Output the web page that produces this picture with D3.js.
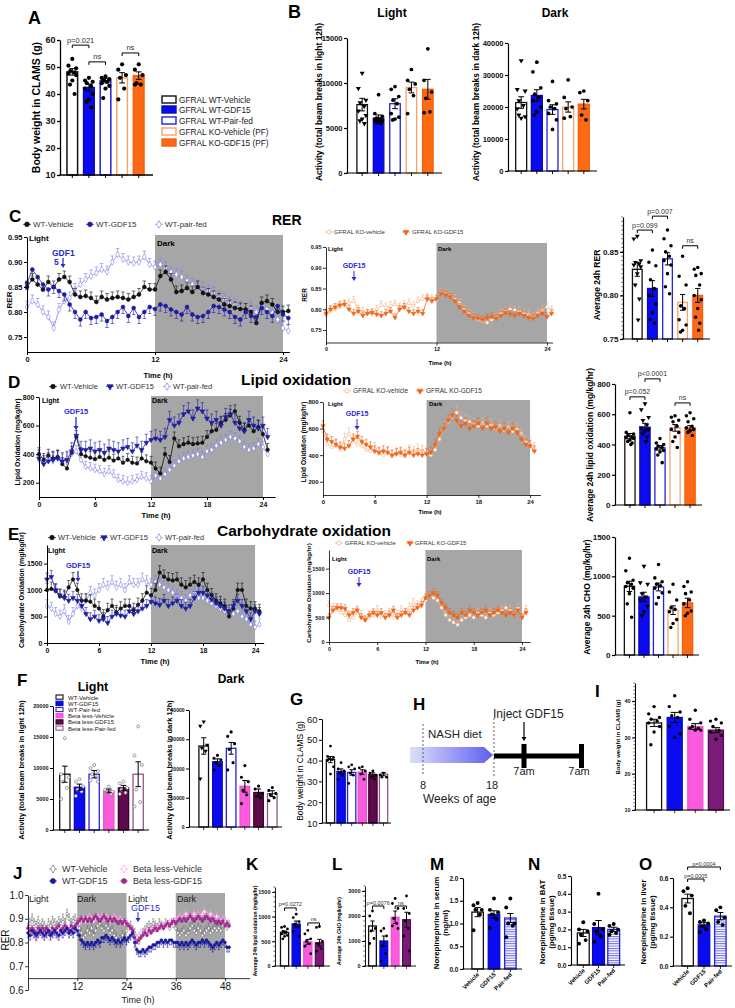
<!DOCTYPE html>
<html><head><meta charset="utf-8">
<script src="https://cdn.jsdelivr.net/npm/d3@7"></script>
<style>body{margin:0;background:#fff}svg{display:block}</style>
</head><body><script>
// ---------- data: group names ----------
const gfralGroups = ["GFRAL WT-Vehicle", "GFRAL WT-GDF15", "GFRAL WT-Pair-fed", "GFRAL KO-Vehicle (PF)", "GFRAL KO-GDF15 (PF)"];
const betaGroups = ["WT-Vehicle", "WT-GDF15", "WT-Pair-fed", "Beta less-Vehicle", "Beta less-GDF15", "Beta less-Pair-fed"];
const neCats = ["Vehicle", "GDF15", "Pair-fed"];

// ---------- A: body weight ----------
const bwMeans = [48.2, 42.4, 44.9, 46.0, 46.8];
const bwSem = [1.2, 1.3, 0.8, 1.9, 1.4];
const bwPts = [[53, 50.5, 49.5, 48.5, 48, 47.5, 47, 45, 43.5, 40], [46, 45, 44.5, 44, 43, 42, 40, 38, 37, 35], [46.5, 46, 45.5, 45, 44.5, 44, 43, 42, 38.5], [51, 49, 47, 46, 42, 38], [51, 49, 47, 44, 43.5, 43.5]];

// ---------- B: activity ----------
const actLMeans = [7600, 6100, 7700, 9500, 9300];
const actLSem = [700, 350, 550, 600, 1100];
const actLPts = [[11100, 9400, 8100, 7800, 7400, 6900, 6400, 6000, 5800, 5500], [8700, 6600, 6300, 6100, 6000, 5900, 5800, 5700, 5600, 5500], [9600, 9300, 8500, 8100, 7700, 6600, 6200, 6000, 5900], [11500, 10300, 9900, 9300, 8600, 6600], [13800, 10300, 9000, 8300, 6800, 6700]];
const actDMeans = [21400, 23600, 19200, 20000, 20900];
const actDSem = [1800, 1800, 1500, 1600, 1500];
const actDPts = [[34500, 25500, 25000, 22000, 20500, 19500, 17000, 16500, 17500], [34000, 31000, 26000, 24000, 23000, 22000, 20000, 18500, 17500], [28000, 22000, 21000, 20000, 19500, 18000, 16000, 13000], [28500, 23000, 20000, 19500, 17000, 16500], [25000, 24500, 22000, 17500, 16000]];

// ---------- C: RER time course (every 0.5 h) ----------
const rerWtVeh = [0.850, 0.865, 0.855, 0.845, 0.860, 0.850, 0.865, 0.870, 0.860, 0.835, 0.830, 0.832, 0.828, 0.820, 0.830, 0.825, 0.828, 0.830, 0.828, 0.825, 0.830, 0.835, 0.850, 0.845, 0.845, 0.872, 0.880, 0.865, 0.840, 0.842, 0.848, 0.840, 0.850, 0.838, 0.835, 0.830, 0.825, 0.815, 0.812, 0.808, 0.806, 0.805, 0.800, 0.778, 0.818, 0.822, 0.815, 0.800, 0.800, 0.802];
const rerWtGdf = [0.858, 0.885, 0.870, 0.855, 0.845, 0.850, 0.842, 0.835, 0.815, 0.800, 0.785, 0.800, 0.788, 0.790, 0.795, 0.782, 0.790, 0.800, 0.810, 0.792, 0.808, 0.790, 0.800, 0.810, 0.806, 0.815, 0.812, 0.805, 0.800, 0.795, 0.810, 0.795, 0.790, 0.792, 0.800, 0.812, 0.810, 0.805, 0.800, 0.790, 0.785, 0.800, 0.792, 0.790, 0.808, 0.800, 0.792, 0.812, 0.795, 0.788];
const rerWtPf = [0.810, 0.822, 0.815, 0.800, 0.790, 0.768, 0.805, 0.822, 0.828, 0.845, 0.855, 0.865, 0.872, 0.878, 0.885, 0.880, 0.900, 0.915, 0.905, 0.900, 0.898, 0.900, 0.910, 0.895, 0.890, 0.895, 0.888, 0.880, 0.875, 0.870, 0.862, 0.855, 0.852, 0.848, 0.842, 0.838, 0.830, 0.825, 0.818, 0.815, 0.810, 0.805, 0.808, 0.800, 0.810, 0.805, 0.798, 0.785, 0.768, 0.762];
const rerKoVeh = [0.785, 0.795, 0.800, 0.805, 0.812, 0.815, 0.820, 0.800, 0.795, 0.790, 0.788, 0.800, 0.810, 0.805, 0.808, 0.812, 0.805, 0.810, 0.815, 0.808, 0.820, 0.825, 0.828, 0.825, 0.822, 0.840, 0.838, 0.832, 0.825, 0.815, 0.800, 0.790, 0.782, 0.775, 0.772, 0.768, 0.775, 0.780, 0.790, 0.795, 0.800, 0.798, 0.795, 0.790, 0.788, 0.780, 0.792, 0.798, 0.805, 0.798];
const rerKoGdf = [0.790, 0.800, 0.805, 0.810, 0.812, 0.800, 0.790, 0.795, 0.785, 0.790, 0.792, 0.788, 0.785, 0.790, 0.795, 0.780, 0.800, 0.805, 0.795, 0.790, 0.795, 0.790, 0.825, 0.820, 0.825, 0.838, 0.835, 0.830, 0.820, 0.805, 0.795, 0.785, 0.780, 0.778, 0.775, 0.780, 0.782, 0.778, 0.785, 0.792, 0.788, 0.785, 0.790, 0.785, 0.780, 0.778, 0.785, 0.790, 0.782, 0.790];
const rerAvgMeans = [0.830, 0.808, 0.842, 0.792, 0.800];
const rerAvgSem = [0.008, 0.009, 0.007, 0.009, 0.008];
const rerAvgPts = [[0.868, 0.865, 0.840, 0.838, 0.836, 0.835, 0.833, 0.825, 0.812, 0.796, 0.772], [0.852, 0.838, 0.834, 0.818, 0.808, 0.800, 0.790, 0.780, 0.772, 0.768], [0.875, 0.865, 0.857, 0.850, 0.845, 0.840, 0.835, 0.825, 0.810, 0.802], [0.845, 0.822, 0.812, 0.788, 0.785, 0.772, 0.766, 0.760, 0.758], [0.832, 0.830, 0.825, 0.823, 0.812, 0.800, 0.795, 0.785, 0.775, 0.768, 0.760]];

// ---------- D: lipid oxidation ----------
const lipWtVeh = [400, 360, 390, 370, 380, 330, 300, 410, 520, 400, 385, 375, 365, 380, 360, 375, 355, 370, 340, 360, 340, 335, 370, 350, 340, 300, 265, 400, 345, 510, 455, 470, 480, 470, 475, 480, 520, 560, 570, 620, 640, 670, 700, 620, 570, 600, 560, 590, 540, 430];
const lipWtGdf = [370, 330, 350, 360, 370, 350, 360, 420, 530, 430, 430, 440, 420, 430, 410, 440, 430, 420, 440, 450, 420, 460, 430, 480, 500, 510, 500, 520, 640, 600, 620, 680, 700, 650, 720, 700, 650, 620, 640, 600, 660, 680, 620, 580, 560, 640, 600, 580, 600, 520];
const lipWtPf = [360, 340, 360, 350, 380, 360, 370, 400, 420, 360, 310, 300, 290, 280, 260, 280, 250, 220, 210, 200, 210, 220, 240, 230, 210, 250, 230, 260, 290, 320, 350, 370, 380, 390, 400, 380, 420, 430, 460, 480, 500, 520, 510, 490, 450, 430, 440, 470, 450, 400];
const lipKoVeh = [580, 480, 460, 470, 440, 520, 560, 500, 480, 470, 440, 430, 450, 410, 400, 420, 390, 410, 400, 390, 430, 420, 440, 430, 420, 400, 440, 520, 600, 650, 690, 720, 680, 660, 650, 630, 620, 640, 620, 630, 600, 620, 590, 610, 580, 600, 560, 500, 480, 450];
const lipKoGdf = [620, 520, 500, 480, 460, 450, 470, 520, 540, 500, 480, 460, 430, 420, 430, 420, 400, 410, 420, 400, 420, 400, 410, 400, 410, 420, 480, 560, 600, 660, 700, 660, 620, 640, 600, 620, 640, 600, 640, 600, 610, 580, 600, 570, 600, 570, 520, 480, 470, 430];
const lipAvgMeans = [455, 515, 378, 510, 510];
const lipAvgSem = [18, 25, 15, 22, 15];
const lipAvgPts = [[610, 480, 470, 460, 450, 445, 440, 430, 420, 410, 400], [670, 630, 580, 560, 530, 510, 500, 490, 470, 450, 420], [440, 410, 400, 390, 380, 370, 360, 350, 330, 280], [590, 580, 560, 550, 520, 500, 480, 450, 420, 380], [610, 590, 570, 550, 520, 510, 500, 490, 480, 460]];

// ---------- E: carbohydrate oxidation ----------
const choWtVeh = [1000, 1020, 980, 880, 870, 1050, 1200, 1000, 800, 800, 780, 700, 650, 500, 620, 700, 580, 650, 700, 700, 620, 720, 800, 950, 900, 1000, 1330, 1250, 1200, 1180, 1200, 1100, 1050, 1100, 1150, 1100, 1200, 1000, 900, 800, 750, 700, 500, 650, 1000, 1000, 700, 650, 650, 600];
const choWtGdf = [1200, 1250, 1000, 900, 850, 800, 850, 800, 700, 550, 450, 500, 420, 450, 380, 500, 550, 520, 500, 600, 550, 600, 650, 700, 780, 750, 720, 800, 700, 750, 800, 700, 650, 700, 850, 950, 950, 900, 820, 750, 700, 650, 600, 700, 800, 700, 600, 450, 600, 550];
const choWtPf = [700, 650, 550, 500, 600, 400, 550, 700, 650, 800, 950, 900, 1000, 1100, 1050, 1150, 1050, 1100, 1000, 1150, 1100, 1100, 1200, 1150, 1100, 1150, 1100, 1050, 1000, 950, 900, 850, 800, 900, 950, 850, 850, 800, 750, 700, 650, 600, 500, 550, 600, 500, 450, 350, 300, 350];
const choKoVeh = [750, 700, 650, 600, 550, 450, 500, 600, 550, 450, 500, 550, 650, 500, 550, 600, 500, 550, 650, 600, 700, 800, 750, 800, 850, 950, 900, 850, 700, 550, 450, 400, 350, 450, 500, 550, 500, 600, 550, 500, 600, 550, 600, 650, 700, 650, 550, 700, 500, 650];
const choKoGdf = [500, 650, 700, 700, 680, 550, 600, 650, 500, 450, 550, 600, 550, 600, 500, 550, 650, 500, 550, 600, 550, 650, 700, 750, 900, 950, 1000, 950, 800, 700, 600, 550, 500, 600, 550, 650, 600, 550, 600, 650, 550, 600, 650, 600, 550, 600, 550, 650, 500, 600];
const choAvgMeans = [873, 738, 865, 570, 662];
const choAvgSem = [65, 60, 50, 55, 60];
const choAvgPts = [[1230, 1070, 950, 920, 900, 870, 850, 780, 650, 480], [1130, 920, 900, 780, 740, 700, 620, 550, 500], [1150, 980, 930, 900, 880, 850, 790, 730, 650], [900, 800, 700, 600, 580, 550, 450, 400, 350], [930, 870, 800, 780, 700, 650, 560, 530, 500]];

// ---------- F, G: Beta less activity and body weight ----------
const fLMeans = [9000, 6900, 9000, 6300, 6800, 9000];
const fLSem = [1300, 500, 600, 300, 400, 2000];
const fLPts = [[14800, 9000, 8500, 7800, 6800, 5000], [8200, 7800, 7000, 6500, 6200, 5500], [10500, 10000, 9500, 9000, 8500, 8000, 7800], [7000, 6500, 6200, 6000, 5800], [7800, 7500, 6800, 6500, 6000, 5800], [16700, 12000, 10500, 6500, 4500, 3800]];
const fDMeans = [27700, 22300, 26900, 13900, 11800, 11400];
const fDSem = [2800, 1000, 2000, 2000, 1200, 1000];
const fDPts = [[36000, 34500, 28000, 27000, 26000, 16500], [24500, 23500, 23000, 22000, 21000, 19500], [32500, 31000, 28500, 26500, 22000, 19500], [21000, 17000, 15500, 12500, 11000, 8000], [14000, 13000, 11500, 10500, 10000], [13500, 12500, 11500, 11000, 10000, 9000]];
const gMeans = [40.5, 34.8, 34.3, 34.5, 33.2, 33.5];
const gSem = [1.5, 1.2, 1.3, 1.1, 0.9, 0.8];
const gPts = [[47, 42, 41.5, 41, 40.5, 40, 37, 33.5], [39, 36, 35, 34, 33, 31], [38, 37, 36, 34, 33, 29], [37, 36.5, 35, 33.5, 31], [35, 34, 33, 32, 31], [34, 33, 32, 32]];

// ---------- I: NASH body weight ----------
const iMeans = [34, 35.5, 33, 32];
const iSem = [1.0, 1.4, 0.8, 0.7];
const iPts = [[38.5, 36.5, 35.5, 35, 34.5, 34, 33, 31.5, 28], [41.5, 38.5, 37, 36, 35.5, 33, 31, 30], [37.5, 35, 34, 33, 32.5, 32.5, 32, 32], [35, 34.5, 34, 33, 32, 31.5, 30.5, 29.5]];

// ---------- J: RER 48 h (every 0.5 h) ----------
const jWtVeh = [0.86, 0.88, 0.90, 0.88, 0.87, 0.89, 0.86, 0.88, 0.87, 0.85, 0.88, 0.87, 0.89, 0.88, 0.87, 0.89, 0.88, 0.90, 0.88, 0.92, 0.90, 0.88, 0.89, 0.90, 0.88,
  0.86, 0.84, 0.82, 0.83, 0.85, 0.84, 0.86, 0.83, 0.85, 0.87, 0.88, 0.86, 0.85, 0.87, 0.86, 0.84, 0.85, 0.83, 0.82, 0.80, 0.81, 0.83, 0.82, 0.85,
  0.86, 0.87, 0.85, 0.84, 0.81, 0.80, 0.82, 0.84, 0.85, 0.86, 0.87, 0.86, 0.88, 0.87, 0.86, 0.88, 0.87, 0.86, 0.88, 0.87, 0.86, 0.88, 0.87, 0.86,
  0.84, 0.83, 0.84, 0.85, 0.83, 0.84, 0.86, 0.87, 0.85, 0.84, 0.86, 0.85, 0.83, 0.84, 0.85, 0.86, 0.84, 0.85, 0.86, 0.85, 0.86, 0.85, 0.87, 0.88, 0.86, 0.87];
const jWtGdf = [0.84, 0.83, 0.85, 0.84, 0.83, 0.84, 0.85, 0.84, 0.83, 0.84, 0.85, 0.83, 0.84, 0.85, 0.84, 0.83, 0.85, 0.84, 0.85, 0.86, 0.84, 0.85, 0.84, 0.86, 0.85,
  0.83, 0.81, 0.80, 0.79, 0.80, 0.79, 0.80, 0.79, 0.80, 0.81, 0.80, 0.82, 0.82, 0.83, 0.82, 0.81, 0.82, 0.81, 0.80, 0.81, 0.80, 0.81, 0.82, 0.81,
  0.82, 0.83, 0.84, 0.80, 0.77, 0.76, 0.76, 0.77, 0.76, 0.77, 0.78, 0.78, 0.79, 0.79, 0.80, 0.80, 0.81, 0.80, 0.81, 0.80, 0.81, 0.81, 0.80, 0.80,
  0.80, 0.79, 0.80, 0.79, 0.80, 0.79, 0.80, 0.81, 0.80, 0.79, 0.80, 0.80, 0.81, 0.80, 0.81, 0.80, 0.79, 0.78, 0.79, 0.80, 0.79, 0.80, 0.81, 0.80, 0.78, 0.78];
const jBlVeh = [0.85, 0.84, 0.82, 0.83, 0.81, 0.83, 0.84, 0.82, 0.83, 0.84, 0.82, 0.83, 0.84, 0.83, 0.82, 0.84, 0.83, 0.84, 0.85, 0.84, 0.83, 0.85, 0.84, 0.85, 0.86,
  0.88, 0.89, 0.90, 0.89, 0.90, 0.91, 0.90, 0.89, 0.90, 0.91, 0.90, 0.91, 0.90, 0.91, 0.90, 0.89, 0.90, 0.91, 0.90, 0.89, 0.90, 0.89, 0.88, 0.89,
  0.86, 0.85, 0.84, 0.83, 0.82, 0.83, 0.84, 0.83, 0.84, 0.85, 0.84, 0.85, 0.86, 0.85, 0.86, 0.87, 0.86, 0.87, 0.88, 0.87, 0.88, 0.87, 0.88, 0.89,
  0.90, 0.91, 0.90, 0.91, 0.92, 0.91, 0.90, 0.91, 0.92, 0.91, 0.92, 0.91, 0.92, 0.93, 0.92, 0.91, 0.92, 0.91, 0.90, 0.91, 0.90, 0.89, 0.90, 0.89, 0.88, 0.88];
const jBlGdf = [0.86, 0.85, 0.86, 0.85, 0.84, 0.86, 0.85, 0.86, 0.85, 0.86, 0.85, 0.84, 0.86, 0.85, 0.86, 0.87, 0.85, 0.86, 0.87, 0.86, 0.85, 0.87, 0.86, 0.87, 0.88,
  0.89, 0.90, 0.89, 0.90, 0.89, 0.90, 0.89, 0.90, 0.91, 0.90, 0.89, 0.90, 0.91, 0.90, 0.89, 0.90, 0.89, 0.90, 0.89, 0.88, 0.89, 0.88, 0.89, 0.88,
  0.87, 0.86, 0.85, 0.82, 0.80, 0.81, 0.82, 0.83, 0.84, 0.83, 0.85, 0.84, 0.85, 0.86, 0.85, 0.86, 0.87, 0.86, 0.87, 0.88, 0.87, 0.88, 0.89, 0.88,
  0.89, 0.90, 0.89, 0.90, 0.89, 0.90, 0.91, 0.90, 0.89, 0.90, 0.91, 0.90, 0.89, 0.90, 0.91, 0.90, 0.89, 0.90, 0.89, 0.88, 0.89, 0.88, 0.89, 0.87, 0.88, 0.87];

// ---------- K, L ----------
const kMeans = [680, 850, 490, 470];
const kSem = [30, 60, 50, 70];
const kPts = [[800, 780, 750, 700, 680, 650, 620, 600, 550], [1050, 980, 900, 850, 800, 700, 600], [720, 650, 550, 500, 450, 400, 250], [800, 780, 500, 450, 350, 300]];
const lMeans = [1600, 1000, 1950, 1850];
const lSem = [200, 200, 250, 300];
const lPts = [[2200, 2000, 1500, 1400, 1100, 900], [1500, 1400, 1200, 800, 500, 200], [2700, 2500, 2300, 1900, 1700, 1600, 1500], [2800, 2300, 2100, 1800, 1500, 1200, 600]];

// ---------- M, N, O: norepinephrine ----------
const mMeans = [1.25, 1.2, 1.12];
const mSem = [0.1, 0.08, 0.1];
const mPts = [[1.45, 1.4, 1.3, 1.3, 1.2, 0.85], [1.55, 1.3, 1.25, 1.2, 1.1, 0.9], [1.55, 1.35, 1.0, 1.0, 0.95, 0.7]];
const nMeans = [0.18, 0.21, 0.20];
const nSem = [0.02, 0.04, 0.012];
const nPts = [[0.24, 0.2, 0.19, 0.17, 0.14, 0.12], [0.4, 0.23, 0.2, 0.19, 0.16, 0.13], [0.23, 0.22, 0.2, 0.19, 0.18, 0.17]];
const oMeans = [0.46, 0.28, 0.34];
const oSem = [0.03, 0.015, 0.025];
const oPts = [[0.53, 0.51, 0.48, 0.41, 0.36], [0.31, 0.30, 0.29, 0.27, 0.25, 0.23], [0.40, 0.38, 0.33, 0.30, 0.28]];

// ---------- drawing ----------
const FONT = "'Liberation Sans', Arial, sans-serif";
const DARK = "#a6a6a6";
const JIT = [0, -1, 1, -0.55, 0.55, -1, 1, 0, -0.6, 0.6, 0.25, -0.25];
const SYM = {c: d3.symbolCircle, t: d3.symbolTriangle, d: d3.symbolDiamond, s: d3.symbolSquare};
const STY = {
  wtVeh: {fill: "#fff", stroke: "#111"},
  wtGdf: {fill: "#0b0bf2", stroke: "#0a0ab8"},
  wtPf: {fill: "#fff", stroke: "#2323dd"},
  koVeh: {fill: "#fff", stroke: "#f5a46e"},
  koGdf: {fill: "#fd6a14", stroke: "#f4600c"},
  blVeh: {fill: "#f95bdc", stroke: "#f050d0"},
  blGdf: {fill: "#5d0b4d", stroke: "#3d0033"},
  blPf: {fill: "#fff", stroke: "#8c5a84"},
  blGdf2: {fill: "#7b1b78", stroke: "#5a0a58"},
  pfStripe: {fill: "url(#stripes)", stroke: "#2323dd"}
};
const styGfral = ["wtVeh", "wtGdf", "wtPf", "koVeh", "koGdf"];
const styBeta = ["wtVeh", "wtGdf", "wtPf", "blVeh", "blGdf", "blPf"];
const styNash = ["wtVeh", "wtGdf", "blVeh", "blGdf2"];
const styNe = ["wtVeh", "wtGdf", "pfStripe"];

const svg = d3.select("body").append("svg").attr("width", 735).attr("height", 1008)
  .style("font-family", FONT);
const defs = svg.append("defs");
const pat = defs.append("pattern").attr("id", "stripes").attr("patternUnits", "userSpaceOnUse")
  .attr("width", 4).attr("height", 2.4);
pat.append("rect").attr("width", 4).attr("height", 2.4).attr("fill", "#fff");
pat.append("rect").attr("y", 0).attr("width", 4).attr("height", 1).attr("fill", "#6a6af0");
const grad = defs.append("linearGradient").attr("id", "nash");
grad.append("stop").attr("offset", "0%").attr("stop-color", "#dde0fa");
grad.append("stop").attr("offset", "100%").attr("stop-color", "#5e5ef0");

function txt(t, x, y, o = {}) {
  return svg.append("text").attr("x", x).attr("y", y).text(t)
    .attr("font-size", o.s || 8).attr("font-weight", o.b ? "bold" : "normal")
    .attr("fill", o.c || "#000").attr("text-anchor", o.a || "start");
}
function vtxt(t, x, cy, o = {}) {
  return svg.append("text").attr("transform", `translate(${x},${cy}) rotate(-90)`).text(t)
    .attr("font-size", o.s || 8).attr("font-weight", o.b ? "bold" : "normal")
    .attr("fill", o.c || "#000").attr("text-anchor", "middle");
}
function letter(t, x, y, s = 19) { txt(t, x, y, {s: s, b: true}); }
function arrow(x, y1, y2, c, w = 1.3) {
  svg.append("path").attr("d", `M${x},${y1}V${y2 - 3}`).attr("stroke", c).attr("stroke-width", w);
  svg.append("path").attr("d", `M${x - 2.5},${y2 - 4}L${x + 2.5},${y2 - 4}L${x},${y2}Z`).attr("fill", c);
}

function styleAxis(a, fs, fw, lw) {
  a.attr("font-family", FONT).attr("font-size", fs).attr("font-weight", fw);
  a.select(".domain").attr("stroke-width", lw);
  a.selectAll(".tick line").attr("stroke-width", lw);
  a.selectAll(".tick text").attr("fill", "#111");
}

function barPanel(p) {
  const g = svg.append("g");
  const y = d3.scaleLinear().domain(p.yd).range(p.yr);
  const n = p.means.length;
  const x = d3.scaleBand().domain(d3.range(n)).range(p.xr).padding(p.pad || 0.3);
  const bw = x.bandwidth(), base = y(p.yd[0]);
  const cx = i => x(i) + bw / 2;
  const lw = p.lw || 1.2;
  g.selectAll(".bar").data(p.means).join("rect").attr("class", "bar")
    .attr("x", (d, i) => x(i)).attr("width", bw)
    .attr("y", d => y(d)).attr("height", d => base - y(d))
    .attr("fill", (d, i) => STY[p.sty[i]].fill).attr("stroke", (d, i) => STY[p.sty[i]].stroke)
    .attr("stroke-width", p.sw || 1.3);
  p.pts.forEach((arr, i) => {
    const sym = (p.sym && p.sym[i]) || "c";
    g.append("g").selectAll("path").data(arr).join("path")
      .attr("transform", (v, j) => `translate(${cx(i) + JIT[j % JIT.length] * bw * 0.36},${y(v)})${sym === "t" ? " rotate(180)" : ""}`)
      .attr("d", d3.symbol().type(SYM[sym]).size(p.ds || 10))
      .attr("fill", p.open ? "#fff" : "#000").attr("stroke", p.open ? "#777" : "none")
      .attr("stroke-width", 0.7);
  });
  g.append("g").selectAll("path").data(p.means).join("path")
    .attr("d", (m, i) => {
      const c = cx(i), w = bw * 0.27, a = y(m - p.sem[i]), b = y(m + p.sem[i]);
      return `M${c},${a}V${b}M${c - w},${a}H${c + w}M${c - w},${b}H${c + w}`;
    })
    .attr("stroke", "#000").attr("stroke-width", 1).attr("fill", "none");
  const ya = g.append("g").attr("transform", `translate(${p.ax},0)`)
    .call(d3.axisLeft(y).tickValues(p.ticks).tickFormat(p.fmt || d3.format("d"))
      .tickSize(3).tickSizeOuter(0).tickPadding(1.5));
  styleAxis(ya, p.fs || 8, p.fw || "bold", lw);
  if (p.minor) {
    g.append("g").selectAll("path").data(d3.range(p.yd[0], p.yd[1] + 1e-9, p.minor)).join("path")
      .attr("d", v => `M${p.ax},${y(v)}h-1.6`).attr("stroke", "#000").attr("stroke-width", 0.6);
  }
  g.append("path").attr("d", `M${p.ax - lw / 2},${base}H${p.xe}`).attr("stroke", "#000").attr("stroke-width", lw);
  g.append("g").selectAll("path").data(d3.range(n)).join("path")
    .attr("d", i => `M${cx(i)},${base}v3`).attr("stroke", "#000").attr("stroke-width", lw * 0.8);
  if (p.yl) {
    const cy = p.yl.cy != null ? p.yl.cy : (p.yr[0] + p.yr[1]) / 2;
    p.yl.t.forEach((t, k) => vtxt(t, p.yl.x + k * (p.yl.gap || 10), cy, {s: p.yl.s, b: p.yl.b !== false}));
  }
  if (p.cats) {
    p.cats.forEach((c, i) => {
      svg.append("text").attr("transform", `translate(${cx(i) + 2},${base + 6}) rotate(-45)`)
        .attr("text-anchor", "end").attr("font-size", p.cs || 6).attr("font-weight", "bold").text(c);
    });
  }
  (p.br || []).forEach(b => {
    const yy = y(b.v), h = b.h || 3;
    g.append("path").attr("d", `M${cx(b.a)},${yy + h}V${yy}H${cx(b.b)}V${yy + h}`)
      .attr("stroke", "#000").attr("stroke-width", b.w || 1).attr("fill", "none");
    txt(b.t, (cx(b.a) + cx(b.b)) / 2, yy - (b.off || 2.5), {s: b.s || 7, a: "middle", c: "#333"});
  });
  return {x: cx, y: y};
}

function tsPanel(p) {
  const g = svg.append("g");
  const x = d3.scaleLinear().domain(p.xd).range(p.xr);
  const y = d3.scaleLinear().domain(p.yd).range(p.yr);
  const base = p.base != null ? y(p.base) : y(p.yd[0]);
  const lw = p.lw || 1;
  p.dark.forEach(([a, b]) => g.append("rect").attr("x", x(a)).attr("y", p.dt)
    .attr("width", x(b) - x(a)).attr("height", base - p.dt).attr("fill", DARK));
  p.series.forEach(s => {
    const pts = s.v.map((v, i) => [i * 0.5, v]);
    const sg = g.append("g").attr("opacity", s.op || 1);
    const dir = s.dir || 1;
    sg.append("path").attr("d", pts.map(d => {
      const px = x(d[0]), a = y(d[1]), b = y(d[1] + dir * s.e);
      return `M${px},${a}V${b}M${px - p.cap},${b}H${px + p.cap}`;
    }).join("")).attr("stroke", s.c).attr("stroke-width", 0.6).attr("fill", "none");
    sg.append("path").datum(pts).attr("d", d3.line().x(d => x(d[0])).y(d => y(d[1])))
      .attr("stroke", s.c).attr("stroke-width", p.lineW || 0.8).attr("fill", "none");
    sg.append("g").selectAll("path").data(pts).join("path")
      .attr("transform", d => `translate(${x(d[0])},${y(d[1])})${s.m === "t" ? " rotate(180)" : ""}`)
      .attr("d", d3.symbol().type(SYM[s.m]).size(p.ms))
      .attr("fill", s.o ? "#fff" : s.c).attr("stroke", s.c).attr("stroke-width", 0.6);
  });
  const ya = g.append("g").attr("transform", `translate(${p.xr[0]},0)`)
    .call(d3.axisLeft(y).tickValues(p.yt).tickFormat(d3.format(p.yf)).tickSize(3).tickSizeOuter(0).tickPadding(1.5));
  styleAxis(ya, p.fs, p.fw || "bold", lw);
  const xa = g.append("g").attr("transform", `translate(0,${base})`)
    .call(d3.axisBottom(x).tickValues(p.xt).tickFormat(d3.format("d")).tickSize(3).tickSizeOuter(0).tickPadding(2));
  styleAxis(xa, p.fs, p.fw || "bold", lw);
  return {x: x, y: y};
}

function tsLegend(items, y, s) {
  items.forEach(it => {
    svg.append("path").attr("d", `M${it.mx - 4},${y - s * 0.33}h8`).attr("stroke", it.c).attr("stroke-width", 0.7);
    svg.append("path").attr("transform", `translate(${it.mx},${y - s * 0.33})${it.m === "t" ? " rotate(180)" : ""}`)
      .attr("d", d3.symbol().type(SYM[it.m]).size(s * 2.2))
      .attr("fill", it.o ? "#fff" : it.c).attr("stroke", it.c).attr("stroke-width", 0.7);
    txt(it.t, it.tx, y, {s: s, c: "#333"});
  });
}

// series styles
const sWtVeh = v => ({v: v, c: "#111", m: "c"});
const sWtGdf = (v, m) => ({v: v, c: "#1e1ea2", m: m});
const sWtPf = v => ({v: v, c: "#8080e8", m: "d", o: true});
const sKoVeh = v => ({v: v, c: "#f5ae84", m: "c", o: true});
const sKoGdf = v => ({v: v, c: "#f0661a", m: "t"});

// ===== A =====
letter("A", 28, 24, 18);
barPanel({ax: 60, xr: [61, 150], xe: 153, yd: [10, 60], yr: [175, 40], ticks: [10, 20, 30, 40, 50, 60],
  means: bwMeans, sem: bwSem, pts: bwPts, sty: styGfral, pad: 0.36, ds: 14, fs: 9, sw: 1.5, lw: 1.3,
  yl: {t: ["Body weight in CLAMS (g)"], x: 40, s: 10.5},
  br: [{a: 0, b: 1, v: 58.1, t: "p=0.021", s: 7.5}, {a: 1, b: 2, v: 51.9, t: "ns", s: 7.5}, {a: 3, b: 4, v: 55.2, t: "ns", s: 7.5}]});
gfralGroups.forEach((gname, i) => {
  const yy = [96, 106, 117, 128, 139][i];
  svg.append("rect").attr("x", 162).attr("y", yy).attr("width", 14).attr("height", 7)
    .attr("fill", STY[styGfral[i]].fill).attr("stroke", STY[styGfral[i]].stroke).attr("stroke-width", 1.4);
  txt(gname, 179, yy + 7, {s: 8.3, c: "#222"});
});

// ===== B =====
letter("B", 288, 18, 18);
txt("Light", 392, 17, {s: 12, b: true, a: "middle"});
txt("Dark", 555, 17, {s: 12, b: true, a: "middle"});
barPanel({ax: 347, xr: [351, 439], xe: 442, yd: [0, 15000], yr: [173, 38], ticks: [0, 5000, 10000, 15000],
  means: actLMeans, sem: actLSem, pts: actLPts, sty: styGfral, sym: ["t"], pad: 0.36, ds: 11, fs: 7.5,
  yl: {t: ["Activity (total beam breaks in light 12h)"], x: 322, cy: 102, s: 8.5}});
barPanel({ax: 508, xr: [511, 594], xe: 597, yd: [0, 40000], yr: [171, 43], ticks: [0, 10000, 20000, 30000, 40000],
  means: actDMeans, sem: actDSem, pts: actDPts, sty: styGfral, sym: ["t"], pad: 0.3, ds: 11, fs: 7.5,
  yl: {t: ["Activity (total beam breaks in dark 12h)"], x: 479, cy: 102, s: 8.5}});

// ===== C =====
letter("C", 9, 222, 17);
txt("RER", 272, 225, {s: 14, b: true});
tsLegend([{mx: 27, tx: 33, t: "WT-Vehicle", c: "#111", m: "c"}, {mx: 90, tx: 96, t: "WT-GDF15", c: "#1e1ea2", m: "c"},
  {mx: 159, tx: 165, t: "WT-pair-fed", c: "#8080e8", m: "d", o: true}], 227, 8);
tsPanel({xd: [0, 24.6], xr: [27, 289.4], yd: [0.72, 0.95], yr: [352, 237], dt: 235, dark: [[12, 24]],
  yt: [0.75, 0.8, 0.85, 0.9, 0.95], yf: ".2f", xt: [0, 12, 24], fs: 7.5, ms: 12, cap: 1.8,
  series: [Object.assign(sWtPf(rerWtPf), {e: 0.012}), Object.assign(sWtVeh(rerWtVeh), {e: 0.012}),
    Object.assign(sWtGdf(rerWtGdf, "c"), {e: 0.013, dir: -1})]});
vtxt("RER", 12, 300, {s: 8, b: true});
txt("Light", 29, 241, {s: 8, b: true});
txt("Dark", 157, 246, {s: 8, b: true});
txt("GDF1", 52, 256, {s: 8.5, b: true, c: "#2a2ad0"});
txt("5", 54, 265, {s: 8.5, b: true, c: "#2a2ad0"});
arrow(63, 258, 268, "#2a2ad0");
txt("Time (h)", 158, 378, {s: 7.5, b: true, a: "middle"});

tsLegend([{mx: 329, tx: 334, t: "GFRAL KO-vehicle", c: "#f5ae84", m: "c", o: true},
  {mx: 406, tx: 412, t: "GFRAL KO-GDF15", c: "#f0661a", m: "t"}], 234, 6);
tsPanel({xd: [0, 24.6], xr: [326, 552.5], yd: [0.72, 0.95], yr: [342.5, 247], dt: 243, dark: [[12, 24]],
  yt: [0.75, 0.8, 0.85, 0.9, 0.95], yf: ".2f", xt: [0, 12, 24], fs: 5.5, ms: 8, cap: 1.5, lw: 0.8,
  series: [Object.assign(sKoVeh(rerKoVeh), {e: 0.01}), Object.assign(sKoGdf(rerKoGdf), {e: 0.009})]});
vtxt("RER", 307, 295, {s: 6.5, b: true});
txt("Light", 328, 251, {s: 6, b: true});
txt("Dark", 438, 251, {s: 6, b: true});
txt("GDF15", 354, 268, {s: 7, b: true, c: "#2a2ad0", a: "middle"});
arrow(354, 271, 281, "#2a2ad0", 1);
txt("Time (h)", 440, 365, {s: 6, b: true, a: "middle"});

barPanel({ax: 623, xr: [627, 708], xe: 710, yd: [0.75, 0.89], yr: [339, 217], ticks: [0.75, 0.8, 0.85], fmt: d3.format(".2f"),
  means: rerAvgMeans, sem: rerAvgSem, pts: rerAvgPts, sty: styGfral, sym: ["t"], pad: 0.36, ds: 10, fs: 8, minor: 0.005,
  yl: {t: ["Average 24h RER"], x: 600, cy: 285, s: 8.5},
  br: [{a: 0, b: 1, v: 0.875, t: "p=0.099"}, {a: 1, b: 2, v: 0.891, t: "p=0.007"}, {a: 3, b: 4, v: 0.857, t: "ns"}]});

// ===== D =====
letter("D", 8, 388, 17);
txt("Lipid oxidation", 241, 385, {s: 15.5, b: true});
tsLegend([{mx: 53, tx: 60, t: "WT-Vehicle", c: "#111", m: "c"}, {mx: 110, tx: 116, t: "WT-GDF15", c: "#1e1ea2", m: "t"},
  {mx: 167, tx: 173, t: "WT-pair-fed", c: "#8080e8", m: "d", o: true}], 389, 7.5);
tsPanel({xd: [0, 25.3], xr: [39, 275.1], yd: [100, 800], yr: [497, 397], dt: 396, dark: [[12, 24]],
  yt: [200, 400, 600, 800], yf: "d", xt: [0, 6, 12, 18, 24], fs: 7, ms: 10, cap: 1.6,
  series: [Object.assign(sWtPf(lipWtPf), {e: 40}), Object.assign(sWtVeh(lipWtVeh), {e: 45}),
    Object.assign(sWtGdf(lipWtGdf, "t"), {e: 60})]});
vtxt("Lipid Oxidation (mg/kg/hr)", 20, 442, {s: 7, b: true});
txt("Light", 42, 403, {s: 7, b: true});
txt("Dark", 152, 403, {s: 7, b: true});
txt("GDF15", 76, 414, {s: 7.5, b: true, c: "#2a2ad0", a: "middle"});
arrow(76, 417, 430, "#2a2ad0");
txt("Time (h)", 156, 518, {s: 7.5, b: true, a: "middle"});

tsLegend([{mx: 347, tx: 353, t: "GFRAL KO-vehicle", c: "#f5ae84", m: "c", o: true},
  {mx: 420, tx: 426, t: "GFRAL KO-GDF15", c: "#f0661a", m: "t"}], 393, 6.5);
tsPanel({xd: [0, 25.2], xr: [323, 540.4], yd: [100, 800], yr: [495, 402], dt: 400, dark: [[12, 24]],
  yt: [200, 400, 600, 800], yf: "d", xt: [0, 6, 12, 18, 24], fs: 6, ms: 8, cap: 1.4, lw: 0.8,
  series: [Object.assign(sKoVeh(lipKoVeh), {e: 45}), Object.assign(sKoGdf(lipKoGdf), {e: 40})]});
vtxt("Lipid Oxidation (mg/kg/hr)", 306, 442, {s: 6.5, b: true});
txt("Light", 328, 406, {s: 6, b: true});
txt("Dark", 429, 406, {s: 6, b: true});
txt("GDF15", 357, 416, {s: 7, b: true, c: "#2a2ad0", a: "middle"});
arrow(357, 419, 430, "#2a2ad0", 1);
txt("Time (h)", 430, 514, {s: 6, b: true, a: "middle"});

barPanel({ax: 615, xr: [620, 700], xe: 702, yd: [0, 800], yr: [505, 384], ticks: [0, 200, 400, 600, 800],
  means: lipAvgMeans, sem: lipAvgSem, pts: lipAvgPts, sty: styGfral, sym: ["c", "t"], pad: 0.32, ds: 10, fs: 8,
  yl: {t: ["Average 24h lipid oxidation (mg/kg/hr)"], x: 593, cy: 445, s: 8.5},
  br: [{a: 0, b: 1, v: 715, t: "p=0.052"}, {a: 1, b: 2, v: 834, t: "p<0.0001"}, {a: 3, b: 4, v: 675, t: "ns"}]});

// ===== E =====
letter("E", 8, 540, 17);
txt("Carbohydrate oxidation", 217, 536, {s: 15.5, b: true});
tsLegend([{mx: 52, tx: 58, t: "WT-Vehicle", c: "#111", m: "c"}, {mx: 104, tx: 110, t: "WT-GDF15", c: "#1e1ea2", m: "t"},
  {mx: 159, tx: 165, t: "WT-pair-fed", c: "#8080e8", m: "d", o: true}], 540, 7.5);
tsPanel({xd: [0, 25], xr: [47, 263.7], yd: [0, 1850], yr: [643, 545], dt: 545, dark: [[12, 24]],
  yt: [0, 500, 1000, 1500], yf: "d", xt: [0, 6, 12, 18, 24], fs: 7, ms: 10, cap: 1.6,
  series: [Object.assign(sWtPf(choWtPf), {e: 120}), Object.assign(sWtVeh(choWtVeh), {e: 130}),
    Object.assign(sWtGdf(choWtGdf, "t"), {e: 120})]});
vtxt("Carbohydrate Oxidation (mg/kg/hr)", 24, 590, {s: 7, b: true});
txt("Light", 48, 553, {s: 7, b: true});
txt("Dark", 152, 553, {s: 7, b: true});
txt("GDF15", 78, 568, {s: 7.5, b: true, c: "#2a2ad0", a: "middle"});
arrow(78, 571, 582, "#2a2ad0");
txt("Time (h)", 155, 664, {s: 7.5, b: true, a: "middle"});

tsLegend([{mx: 339, tx: 345, t: "GFRAL KO-vehicle", c: "#f5ae84", m: "c", o: true},
  {mx: 410, tx: 415, t: "GFRAL KO-GDF15", c: "#f0661a", m: "t"}], 545, 6);
tsPanel({xd: [0, 25], xr: [329, 530], yd: [0, 1880], yr: [642, 550], dt: 550, dark: [[12, 24]],
  yt: [0, 500, 1000, 1500], yf: "d", xt: [0, 6, 12, 18, 24], fs: 5.5, ms: 8, cap: 1.4, lw: 0.8,
  series: [Object.assign(sKoVeh(choKoVeh), {e: 90}), Object.assign(sKoGdf(choKoGdf), {e: 80})]});
vtxt("Carbohydrate Oxidation (mg/kg/hr)", 311, 593, {s: 6, b: true});
txt("Light", 332, 561, {s: 6, b: true});
txt("Dark", 427, 561, {s: 6, b: true});
txt("GDF15", 359, 574, {s: 7, b: true, c: "#2a2ad0", a: "middle"});
arrow(359, 577, 587, "#2a2ad0", 1);
txt("Time (h)", 427, 664, {s: 6, b: true, a: "middle"});

barPanel({ax: 615, xr: [620, 697], xe: 699, yd: [0, 1500], yr: [655, 537], ticks: [0, 500, 1000, 1500],
  means: choAvgMeans, sem: choAvgSem, pts: choAvgPts, sty: styGfral, sym: ["c", "t"], pad: 0.3, ds: 10, fs: 8,
  yl: {t: ["Average 24h CHO (mg/kg/hr)"], x: 590, cy: 597, s: 8.5}});

// ===== F =====
letter("F", 17, 686, 17);
txt("Light", 93, 691, {s: 12.5, b: true, a: "middle"});
txt("Dark", 231, 683, {s: 12, b: true, a: "middle"});
barPanel({ax: 53, xr: [55.3, 147.7], xe: 149, yd: [0, 20000], yr: [830, 706], ticks: [0, 5000, 10000, 15000, 20000],
  means: fLMeans, sem: fLSem, pts: fLPts, sty: styBeta, pad: 0.3, ds: 7, fs: 5.5, open: true, lw: 1,
  yl: {t: ["Activity (total beam breaks in light 12h)"], x: 24, cy: 770, s: 7.5}});
betaGroups.forEach((gname, i) => {
  const yy = 695 + i * 6.2;
  svg.append("rect").attr("x", 56).attr("y", yy).attr("width", 7).attr("height", 4.2)
    .attr("fill", STY[styBeta[i]].fill).attr("stroke", STY[styBeta[i]].stroke).attr("stroke-width", 1.1);
  txt(gname, 68, yy + 4.6, {s: 6, c: "#222"});
});
barPanel({ax: 189, xr: [194.8, 281.2], xe: 282, yd: [0, 40000], yr: [827, 710], ticks: [0, 10000, 20000, 30000, 40000],
  means: fDMeans, sem: fDSem, pts: fDPts, sty: styBeta, sym: ["t"], pad: 0.3, ds: 8, fs: 5, lw: 1,
  yl: {t: ["Activity (total beam breaks in dark 12h)"], x: 172, cy: 770, s: 7.5}});

// ===== G =====
letter("G", 290, 705, 17);
barPanel({ax: 322, xr: [324, 390], xe: 391, yd: [10, 60], yr: [823, 719], ticks: [10, 20, 30, 40, 50, 60],
  means: gMeans, sem: gSem, pts: gPts, sty: styBeta, pad: 0.22, ds: 6, fs: 9.5, fw: "normal", lw: 1,
  yl: {t: ["Body weight in CLAMS (g)"], x: 303, cy: 771, s: 8.5, b: false}});

// ===== H: timeline =====
letter("H", 413, 710, 17);
svg.append("path").attr("d", "M410,747H484L493,755L484,763H410Z").attr("fill", "url(#nash)");
svg.append("path").attr("d", "M423,724V776").attr("stroke", "#555").attr("stroke-dasharray", "2,2").attr("stroke-width", 0.9);
svg.append("path").attr("d", "M494,718V778").attr("stroke", "#555").attr("stroke-dasharray", "2,2").attr("stroke-width", 0.9);
svg.append("path").attr("d", "M494,756H582").attr("stroke", "#000").attr("stroke-width", 5);
svg.append("rect").attr("x", 521.5).attr("y", 744).attr("width", 5).attr("height", 24).attr("fill", "#000");
svg.append("rect").attr("x", 579).attr("y", 744).attr("width", 5).attr("height", 24).attr("fill", "#000");
arrow(524, 722, 741, "#000", 1.2);
txt("Inject GDF15", 493, 718, {s: 12, c: "#222"});
txt("NASH diet", 428, 738, {s: 11.5, c: "#222"});
txt("7am", 524, 775, {s: 11, a: "middle", c: "#222"});
txt("7am", 579, 775, {s: 11, a: "middle", c: "#222"});
txt("8", 423, 789, {s: 11, a: "middle", c: "#222"});
txt("18", 492, 789, {s: 11, a: "middle", c: "#222"});
txt("Weeks of age", 423, 803, {s: 12, c: "#222"});

// ===== I =====
letter("I", 595, 697, 17);
barPanel({ax: 635, xr: [641, 729], xe: 730, yd: [10, 45], yr: [810, 683], ticks: [10, 20, 30, 40],
  means: iMeans, sem: iSem, pts: iPts, sty: styNash, pad: 0.27, ds: 9, fs: 5.5, minor: 1, lw: 1,
  yl: {t: ["Body weight in CLAMS (g)"], x: 620, cy: 737, s: 6}});

// ===== J =====
letter("J", 13, 879, 17);
tsLegend([{mx: 53, tx: 62, t: "WT-Vehicle", c: "#707070", m: "d", o: true}, {mx: 124, tx: 133, t: "Beta less-Vehicle", c: "#f2a0e2", m: "d", o: true}], 872, 9);
tsLegend([{mx: 53, tx: 62, t: "WT-GDF15", c: "#1a1a9e", m: "c"}, {mx: 124, tx: 133, t: "Beta less-GDF15", c: "#a0288e", m: "c"}], 884, 9);
tsPanel({xd: [0, 54], xr: [28, 249.6], yd: [0.6, 1.0], yr: [990, 895], base: 0.65, dt: 893, dark: [[12, 24], [36, 48]],
  yt: [0.6, 0.7, 0.8, 0.9, 1.0], yf: ".1f", xt: [12, 24, 36, 48], fs: 10, fw: "normal", ms: 6, cap: 1, lw: 0.8, lineW: 0.6,
  series: [{v: jWtVeh, c: "#707070", m: "d", o: true, e: 0.02}, {v: jBlVeh, c: "#f2a0e2", m: "d", o: true, e: 0.015},
    {v: jBlGdf, c: "#a0288e", m: "c", e: 0.012}, {v: jWtGdf, c: "#1a1a9e", m: "c", e: 0.02, dir: -1}]});
vtxt("RER", 9, 940, {s: 10, b: false});
txt("Light", 29, 902, {s: 9, c: "#222"});
txt("Dark", 77, 902, {s: 9, c: "#222"});
txt("Light", 128, 902, {s: 9, c: "#222"});
txt("GDF15", 131, 911, {s: 9, c: "#2a2ad0"});
arrow(138, 912, 922, "#2a2ad0", 1);
txt("Dark", 177, 902, {s: 9, c: "#222"});
txt("Time (h)", 138, 1003, {s: 9, a: "middle", c: "#222"});

// ===== K, L =====
letter("K", 246, 870, 17);
barPanel({ax: 275, xr: [277, 327], xe: 330, yd: [0, 1600], yr: [966, 887], ticks: [0, 500, 1000, 1500],
  means: kMeans, sem: kSem, pts: kPts, sty: styNash, pad: 0.3, ds: 6, fs: 5.5, minor: 100, lw: 0.9,
  yl: {t: ["Average 24h lipid oxidation (mg/kg/hr)"], x: 257, cy: 931, s: 5},
  br: [{a: 0, b: 1, v: 1176, t: "p=0.0272", s: 5.5, off: 1.5}, {a: 2, b: 3, v: 872, t: "ns", s: 5.5, off: 1.5}]});
letter("L", 332, 870, 17);
barPanel({ax: 365, xr: [365, 414], xe: 416, yd: [0, 3200], yr: [966, 886], ticks: [0, 1000, 2000, 3000],
  means: lMeans, sem: lSem, pts: lPts, sty: styNash, pad: 0.32, ds: 6, fs: 5.5, minor: 200, lw: 0.9,
  yl: {t: ["Average 24h CHO (mg/kg/hr)"], x: 341, cy: 931, s: 5},
  br: [{a: 0, b: 1, v: 2400, t: "p=0.0076", s: 5.5, off: 1.5}, {a: 2, b: 3, v: 2400, t: "ns", s: 5.5, off: 1.5}]});

// ===== M, N, O =====
letter("M", 430, 870, 17);
barPanel({ax: 463, xr: [467, 521], xe: 522, yd: [0, 2], yr: [969, 878], ticks: [0, 0.5, 1, 1.5, 2], fmt: d3.format(".1f"),
  means: mMeans, sem: mSem, pts: mPts, sty: styNe, pad: 0.3, ds: 12, fs: 6.5, cats: neCats, lw: 1.1,
  yl: {t: ["Norepinephrine in serum", "(ng/ml)"], x: 439, cy: 923, s: 7.8, gap: 9}});
letter("N", 528, 870, 17);
barPanel({ax: 571, xr: [574, 623], xe: 625, yd: [0, 0.5], yr: [965, 876], ticks: [0, 0.1, 0.2, 0.3, 0.4, 0.5], fmt: d3.format(".1f"),
  means: nMeans, sem: nSem, pts: nPts, sty: styNe, pad: 0.22, ds: 12, fs: 6.5, cats: neCats, lw: 1.1,
  yl: {t: ["Norepinephrine in BAT", "(pg/mg tissue)"], x: 545, cy: 922, s: 7.8, gap: 9}});
letter("O", 639, 870, 17);
barPanel({ax: 673, xr: [677, 731], xe: 732, yd: [0, 0.6], yr: [966, 878], ticks: [0, 0.2, 0.4, 0.6], fmt: d3.format(".1f"),
  means: oMeans, sem: oSem, pts: oPts, sty: styNe, pad: 0.3, ds: 12, fs: 6.5, cats: neCats, lw: 1.1,
  yl: {t: ["Norepinephrine in liver", "(pg/mg tissue)"], x: 646, cy: 922, s: 7.8, gap: 9},
  br: [{a: 0, b: 1, v: 0.593, t: "p=0.0005", s: 5.5, off: 1.5}, {a: 0, b: 2, v: 0.675, t: "p=0.0004", s: 5.5, off: 1.5}]});
</script></body></html>
